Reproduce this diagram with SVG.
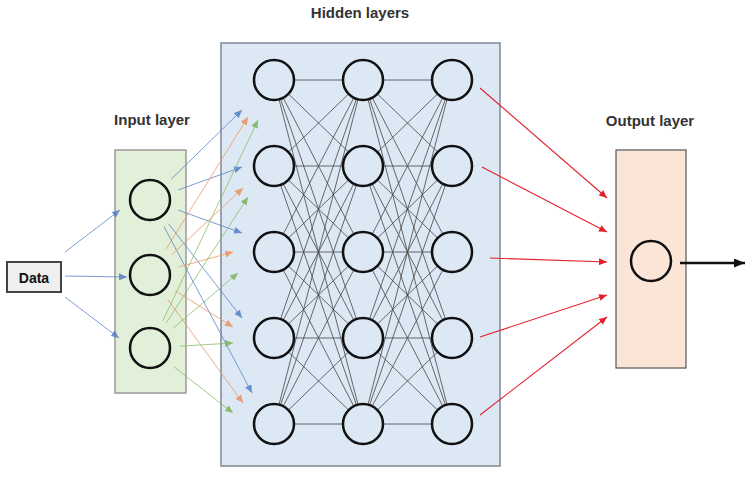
<svg xmlns="http://www.w3.org/2000/svg" width="752" height="477" viewBox="0 0 752 477">
<style>
.lbl{font-family:"Liberation Sans",Arial,sans-serif;font-weight:bold;font-size:15px;fill:#333;text-anchor:middle}
.node{stroke:#111;stroke-width:2.5}
.hid{fill:#dde8f5}
.inp{fill:#e2efd9}
.out{fill:#fbe5d6}
.mesh line{stroke:#444;stroke-width:0.8}
.b{stroke:#5b87c9;stroke-width:1;opacity:0.8;marker-end:url(#mb)}
.o{stroke:#ed9a6a;stroke-width:1;opacity:0.8;marker-end:url(#mo)}
.g{stroke:#8cbf6a;stroke-width:1;opacity:0.8;marker-end:url(#mg)}
.r{stroke:#e3202c;stroke-width:1.1;marker-end:url(#mr)}
</style>
<defs>
<marker id="mb" markerWidth="8" markerHeight="7" refX="8" refY="3.5" orient="auto" markerUnits="userSpaceOnUse"><path d="M0,0 L8,3.5 L0,7 z" fill="#4a78c2"/></marker>
<marker id="mo" markerWidth="8" markerHeight="7" refX="8" refY="3.5" orient="auto" markerUnits="userSpaceOnUse"><path d="M0,0 L8,3.5 L0,7 z" fill="#ee8c50"/></marker>
<marker id="mg" markerWidth="8" markerHeight="7" refX="8" refY="3.5" orient="auto" markerUnits="userSpaceOnUse"><path d="M0,0 L8,3.5 L0,7 z" fill="#77b150"/></marker>
<marker id="mr" markerWidth="8" markerHeight="7" refX="8" refY="3.5" orient="auto" markerUnits="userSpaceOnUse"><path d="M0,0 L8,3.5 L0,7 z" fill="#e3202c"/></marker>
<marker id="mk" markerWidth="11" markerHeight="9" refX="11" refY="4.5" orient="auto" markerUnits="userSpaceOnUse"><path d="M0,0 L11,4.5 L0,9 z" fill="#111"/></marker>
</defs>
<rect width="752" height="477" fill="#fff"/>
<text class="lbl" x="360" y="18">Hidden layers</text>
<text class="lbl" x="152" y="125">Input layer</text>
<text class="lbl" x="650" y="126">Output layer</text>

<g id="hidden-box"><rect x="221" y="43" width="279" height="423" fill="#dde8f5" stroke="#7d8894" stroke-width="1.5"/></g>
<g id="input-box"><rect x="115" y="150" width="71" height="243" fill="#e2efd9" stroke="#9a9a9a" stroke-width="1.5"/></g>
<g id="output-box"><rect x="616" y="150" width="70" height="218" fill="#fbe5d6" stroke="#555" stroke-width="1.2"/></g>
<g id="data"><rect x="7" y="262" width="54" height="30" fill="#efefef" stroke="#444" stroke-width="2"/><text class="lbl" x="34" y="283" style="font-size:14px;fill:#111">Data</text></g>

<g id="connectors">
<g class="mesh">
<line x1="274" y1="80" x2="363" y2="80"/><line x1="274" y1="80" x2="363" y2="166"/><line x1="274" y1="80" x2="363" y2="252"/><line x1="274" y1="80" x2="363" y2="338"/><line x1="274" y1="80" x2="363" y2="424"/>
<line x1="274" y1="166" x2="363" y2="80"/><line x1="274" y1="166" x2="363" y2="166"/><line x1="274" y1="166" x2="363" y2="252"/><line x1="274" y1="166" x2="363" y2="338"/><line x1="274" y1="166" x2="363" y2="424"/>
<line x1="274" y1="252" x2="363" y2="80"/><line x1="274" y1="252" x2="363" y2="166"/><line x1="274" y1="252" x2="363" y2="252"/><line x1="274" y1="252" x2="363" y2="338"/><line x1="274" y1="252" x2="363" y2="424"/>
<line x1="274" y1="338" x2="363" y2="80"/><line x1="274" y1="338" x2="363" y2="166"/><line x1="274" y1="338" x2="363" y2="252"/><line x1="274" y1="338" x2="363" y2="338"/><line x1="274" y1="338" x2="363" y2="424"/>
<line x1="274" y1="424" x2="363" y2="80"/><line x1="274" y1="424" x2="363" y2="166"/><line x1="274" y1="424" x2="363" y2="252"/><line x1="274" y1="424" x2="363" y2="338"/><line x1="274" y1="424" x2="363" y2="424"/>
<line x1="363" y1="80" x2="452" y2="80"/><line x1="363" y1="80" x2="452" y2="166"/><line x1="363" y1="80" x2="452" y2="252"/><line x1="363" y1="80" x2="452" y2="338"/><line x1="363" y1="80" x2="452" y2="424"/>
<line x1="363" y1="166" x2="452" y2="80"/><line x1="363" y1="166" x2="452" y2="166"/><line x1="363" y1="166" x2="452" y2="252"/><line x1="363" y1="166" x2="452" y2="338"/><line x1="363" y1="166" x2="452" y2="424"/>
<line x1="363" y1="252" x2="452" y2="80"/><line x1="363" y1="252" x2="452" y2="166"/><line x1="363" y1="252" x2="452" y2="252"/><line x1="363" y1="252" x2="452" y2="338"/><line x1="363" y1="252" x2="452" y2="424"/>
<line x1="363" y1="338" x2="452" y2="80"/><line x1="363" y1="338" x2="452" y2="166"/><line x1="363" y1="338" x2="452" y2="252"/><line x1="363" y1="338" x2="452" y2="338"/><line x1="363" y1="338" x2="452" y2="424"/>
<line x1="363" y1="424" x2="452" y2="80"/><line x1="363" y1="424" x2="452" y2="166"/><line x1="363" y1="424" x2="452" y2="252"/><line x1="363" y1="424" x2="452" y2="338"/><line x1="363" y1="424" x2="452" y2="424"/>
</g>
<line class="b" x1="65" y1="252" x2="120" y2="210"/>
<line class="b" x1="65" y1="276" x2="127" y2="277"/>
<line class="b" x1="65" y1="297" x2="119" y2="338"/>

<line class="b" x1="171.4" y1="179" x2="242" y2="110"/>
<line class="b" x1="178.2" y1="189.9" x2="242" y2="167"/>
<line class="b" x1="178.2" y1="210.1" x2="242" y2="233"/>
<line class="b" x1="168.5" y1="223.7" x2="242" y2="318"/>
<line class="b" x1="164" y1="226.5" x2="252" y2="393"/>

<line class="o" x1="165.8" y1="249.5" x2="248" y2="117"/>
<line class="o" x1="171.9" y1="254.5" x2="243" y2="188"/>
<line class="o" x1="178.9" y1="267" x2="233" y2="252"/>
<line class="o" x1="175.4" y1="290.9" x2="233" y2="327"/>
<line class="o" x1="167.6" y1="299.3" x2="243" y2="403"/>

<line class="g" x1="162.8" y1="320.9" x2="258" y2="120"/>
<line class="g" x1="166.3" y1="322.8" x2="248" y2="197"/>
<line class="g" x1="172.8" y1="328.5" x2="238" y2="273"/>
<line class="g" x1="180" y1="346.2" x2="233" y2="343"/>
<line class="g" x1="173.6" y1="366.5" x2="233" y2="413"/>

<line class="r" x1="480" y1="88" x2="607" y2="198"/>
<line class="r" x1="482" y1="167" x2="607" y2="232"/>
<line class="r" x1="490" y1="258" x2="607" y2="262"/>
<line class="r" x1="480" y1="337" x2="607" y2="295"/>
<line class="r" x1="480" y1="415" x2="607" y2="317"/>

<line x1="680" y1="263" x2="745" y2="263" stroke="#111" stroke-width="2.5" marker-end="url(#mk)"/>
</g>

<g id="input-nodes">
<circle id="in1" class="node inp" cx="150" cy="200" r="20"/>
<circle id="in2" class="node inp" cx="150" cy="275" r="20"/>
<circle id="in3" class="node inp" cx="150" cy="348" r="20"/>
</g>
<g id="hidden-nodes">
<circle id="h11" class="node hid" cx="274" cy="80" r="20"/><circle id="h12" class="node hid" cx="274" cy="166" r="20"/><circle id="h13" class="node hid" cx="274" cy="252" r="20"/><circle id="h14" class="node hid" cx="274" cy="338" r="20"/><circle id="h15" class="node hid" cx="274" cy="424" r="20"/>
<circle id="h21" class="node hid" cx="363" cy="80" r="20"/><circle id="h22" class="node hid" cx="363" cy="166" r="20"/><circle id="h23" class="node hid" cx="363" cy="252" r="20"/><circle id="h24" class="node hid" cx="363" cy="338" r="20"/><circle id="h25" class="node hid" cx="363" cy="424" r="20"/>
<circle id="h31" class="node hid" cx="452" cy="80" r="20"/><circle id="h32" class="node hid" cx="452" cy="166" r="20"/><circle id="h33" class="node hid" cx="452" cy="252" r="20"/><circle id="h34" class="node hid" cx="452" cy="338" r="20"/><circle id="h35" class="node hid" cx="452" cy="424" r="20"/>
</g>
<g id="output-node"><circle class="node out" cx="651" cy="261" r="20"/></g>
</svg>
